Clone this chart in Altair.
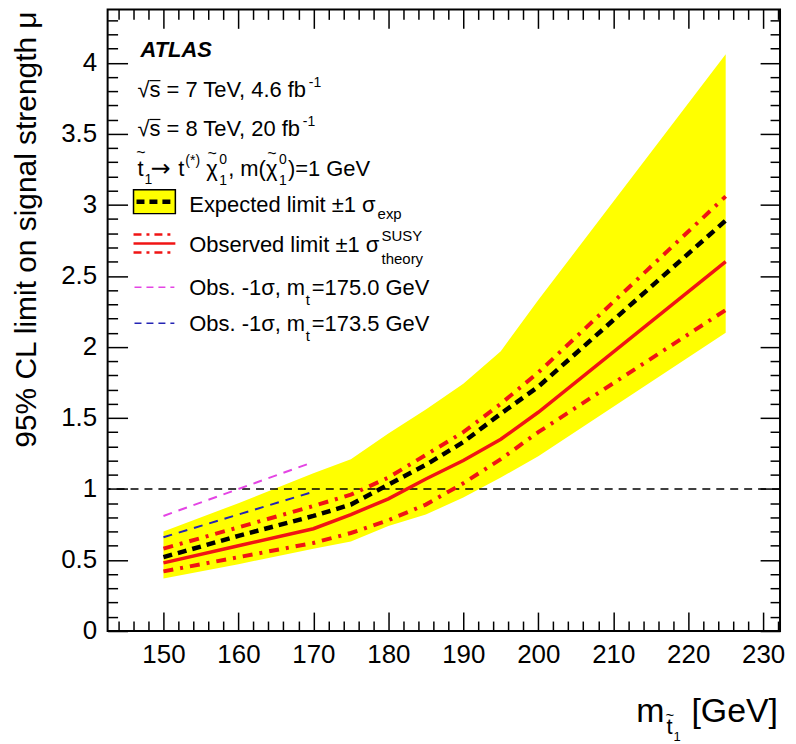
import altair as alt
import pandas as pd

# ---------------- data ----------------
mass = [150, 160, 170, 175, 180, 185, 190, 195, 200, 225]
band_lo = [0.37, 0.47, 0.58, 0.63, 0.74, 0.82, 0.94, 1.08, 1.23, 2.10]
band_hi = [0.70, 0.90, 1.11, 1.21, 1.39, 1.56, 1.74, 1.97, 2.33, 4.06]
expected = [0.52, 0.67, 0.81, 0.89, 1.03, 1.17, 1.33, 1.53, 1.72, 2.89]
observed = [0.48, 0.60, 0.72, 0.82, 0.93, 1.07, 1.20, 1.35, 1.54, 2.60]
obs_up = [0.58, 0.73, 0.88, 0.96, 1.08, 1.24, 1.40, 1.60, 1.82, 3.06]
obs_dn = [0.42, 0.52, 0.62, 0.69, 0.78, 0.89, 1.04, 1.21, 1.40, 2.26]

mt_mass = [150, 170]
obs_m1_mt1750 = [0.81, 1.19]
obs_m1_mt1735 = [0.66, 0.98]

ref_level = [1.0]

x_major = [150, 160, 170, 180, 190, 200, 210, 220, 230]
y_major = [0, 0.5, 1, 1.5, 2, 2.5, 3, 3.5, 4]
x_minor = [v for v in range(144, 233, 2) if v % 10 != 0]
y_minor = [round(i * 0.1, 1) for i in range(0, 44) if i % 5 != 0]

X_DOMAIN = [142.55, 232.25]
Y_DOMAIN = [0, 4.376]

# ---------------- layout ----------------
W, H = 675, 624
LEFT, TOP = 108, 8          # page position of plot origin
FONT = "Liberation Sans"

df = pd.DataFrame(dict(mass=mass, lo=band_lo, hi=band_hi, exp=expected,
                       obs=observed, up=obs_up, dn=obs_dn))
dmt = pd.DataFrame(dict(mass=mt_mass, a=obs_m1_mt1750, b=obs_m1_mt1735))
dref = pd.DataFrame(dict(mu=ref_level))

xs = alt.Scale(domain=X_DOMAIN, nice=False, zero=False)
ys = alt.Scale(domain=Y_DOMAIN, nice=False, zero=False)


def axis(orient, values, tick, labels=False, fmt="~g"):
    kw = dict(orient=orient, values=values, tickSize=tick, offset=-tick,
              domain=False, grid=False, ticks=True, tickColor="black",
              tickWidth=1.5, labels=labels, title="", zindex=2)
    if labels:
        kw.update(labelFont=FONT, labelFontSize=26, labelColor="black",
                  labelPadding=11, format=fmt, labelOverlap=False,
                  labelFlush=False)
    return alt.Axis(**kw)


band = alt.Chart(df).mark_area(color="#ffff00", opacity=1).encode(
    x=alt.X("mass:Q", scale=xs, axis=axis("bottom", x_major, 19, True, "d")),
    y=alt.Y("lo:Q", scale=ys, axis=axis("left", y_major, 20, True)),
    y2="hi:Q",
)

refline = alt.Chart(dref).mark_rule(color="black", strokeWidth=1.5,
                                    strokeDash=[8, 6]).encode(
    y=alt.Y("mu:Q", scale=ys, axis=None))

exp_line = alt.Chart(df).mark_line(color="black", strokeWidth=4.5,
                                   strokeDash=[9, 6]).encode(
    x=alt.X("mass:Q", scale=xs, axis=axis("bottom", x_minor, 10)),
    y=alt.Y("exp:Q", scale=ys, axis=axis("left", y_minor, 10)),
)

RED = "#f01414"
DASHDOT = [10, 7, 3, 7]

obs_line = alt.Chart(df).mark_line(color=RED, strokeWidth=3.5).encode(
    x=alt.X("mass:Q", scale=xs, axis=axis("top", x_major, 19)),
    y=alt.Y("obs:Q", scale=ys, axis=axis("right", y_major, 20)),
)

up_line = alt.Chart(df).mark_line(color=RED, strokeWidth=4,
                                  strokeDash=DASHDOT).encode(
    x=alt.X("mass:Q", scale=xs, axis=axis("top", x_minor, 10)),
    y=alt.Y("up:Q", scale=ys, axis=axis("right", y_minor, 10)),
)

dn_line = alt.Chart(df).mark_line(color=RED, strokeWidth=4,
                                  strokeDash=DASHDOT).encode(
    x=alt.X("mass:Q", scale=xs, axis=None),
    y=alt.Y("dn:Q", scale=ys, axis=None),
)

PINK = "#e444e4"
BLUE = "#2424b4"
pink_line = alt.Chart(dmt).mark_line(color=PINK, strokeWidth=2,
                                     strokeDash=[9, 7]).encode(
    x=alt.X("mass:Q", scale=xs, axis=None),
    y=alt.Y("a:Q", scale=ys, axis=None),
)
blue_line = alt.Chart(dmt).mark_line(color=BLUE, strokeWidth=2,
                                     strokeDash=[9, 7]).encode(
    x=alt.X("mass:Q", scale=xs, axis=None),
    y=alt.Y("b:Q", scale=ys, axis=None),
)

DUMMY = alt.Data(values=[{}])


def txt(s, px, py, size=22, align="left", baseline="alphabetic",
        style="normal", weight="normal", angle=0, font=FONT):
    return alt.Chart(DUMMY).mark_text(
        font=font, fontSize=size, align=align, baseline=baseline,
        fontStyle=style, fontWeight=weight, angle=angle, color="black",
    ).encode(x=alt.value(px - LEFT), y=alt.value(py - TOP), text=alt.value(s))


def hline(x1, x2, py, color, width, dash=None):
    kw = dict(color=color, strokeWidth=width)
    if dash:
        kw["strokeDash"] = dash
    return alt.Chart(DUMMY).mark_rule(**kw).encode(
        x=alt.value(x1 - LEFT), x2=alt.value(x2 - LEFT), y=alt.value(py - TOP))


annot = [
    txt("ATLAS", 141, 56, size=22, style="italic", weight="bold"),
    txt("\u221as = 7 TeV, 4.6 fb", 138, 96),
    hline(150, 161, 79.5, "black", 1.2),
    txt("-1", 310, 86, size=14),
    txt("\u221as = 8 TeV, 20 fb", 138, 135),
    hline(150, 161, 118.5, "black", 1.2),
    txt("-1", 304, 125, size=14),
    # decay line
    txt("t", 138, 175),
    txt("~", 141.5, 157, size=16, align="center"),
    txt("1", 145, 183, size=14),
    txt("\u2192", 151, 175, size=24, font="DejaVu Sans"),
    txt("t", 179, 175),
    txt("(*)", 186, 164, size=14),
    txt("\u03c7", 207, 175),
    txt("~", 213, 158, size=16, align="center"),
    txt("0", 220, 163, size=14),
    txt("1", 220, 184, size=14),
    txt(", m(", 229, 175),
    txt("\u03c7", 267, 175),
    txt("~", 273, 158, size=16, align="center"),
    txt("0", 280, 163, size=14),
    txt("1", 280, 184, size=14),
    txt(")=1 GeV", 289, 175),
    # legend entries
    alt.Chart(DUMMY).mark_rect(color="#ffff00", stroke="black",
                               strokeWidth=1.5).encode(
        x=alt.value(134 - LEFT), x2=alt.value(176 - LEFT),
        y=alt.value(189 - TOP), y2=alt.value(213 - TOP)),
    hline(137, 174, 201, "black", 4.5, [8, 5]),
    txt("Expected limit \u00b11 \u03c3", 190, 211),
    txt("exp", 379, 218, size=15),
    hline(134, 176, 234, RED, 2.5, [8, 5, 3, 5]),
    hline(134, 176, 243, RED, 2.5),
    hline(134, 176, 252, RED, 2.5, [8, 5, 3, 5]),
    txt("Observed limit \u00b11 \u03c3", 190, 252),
    txt("SUSY", 383, 240, size=15),
    txt("theory", 383, 264, size=15),
    hline(135, 175, 287, PINK, 1.5, [7, 5]),
    txt("Obs. -1\u03c3, m", 190, 295),
    txt("t", 307, 305, size=15),
    txt("=175.0 GeV", 313, 295),
    hline(135, 175, 323, BLUE, 1.5, [7, 5]),
    txt("Obs. -1\u03c3, m", 190, 331),
    txt("t", 307, 341, size=15),
    txt("=173.5 GeV", 313, 331),
    # axis titles
    txt("95% CL limit on signal strength \u03bc", 27, 10, size=30,
        align="right", baseline="middle", angle=270),
    txt("[GeV]", 781, 723, size=34, align="right"),
    txt("m", 667, 723, size=34, align="right"),
    txt("t", 669, 735, size=22),
    txt("~", 672.5, 721, size=15, align="center"),
    txt("1", 676, 742, size=13),
]

chart = alt.layer(
    band, refline, exp_line, obs_line, up_line, dn_line, pink_line, blue_line,
    *annot,
).resolve_axis(x="independent", y="independent").properties(
    width=W, height=H,
    autosize=alt.AutoSizeParams(type="none"),
    padding={"left": LEFT - 8, "top": TOP - 8, "right": 8, "bottom": 112},
    background="white",
).configure_view(stroke="black", strokeWidth=2)

chart.save("out.html", embed_options={"renderer": "svg", "actions": False})
